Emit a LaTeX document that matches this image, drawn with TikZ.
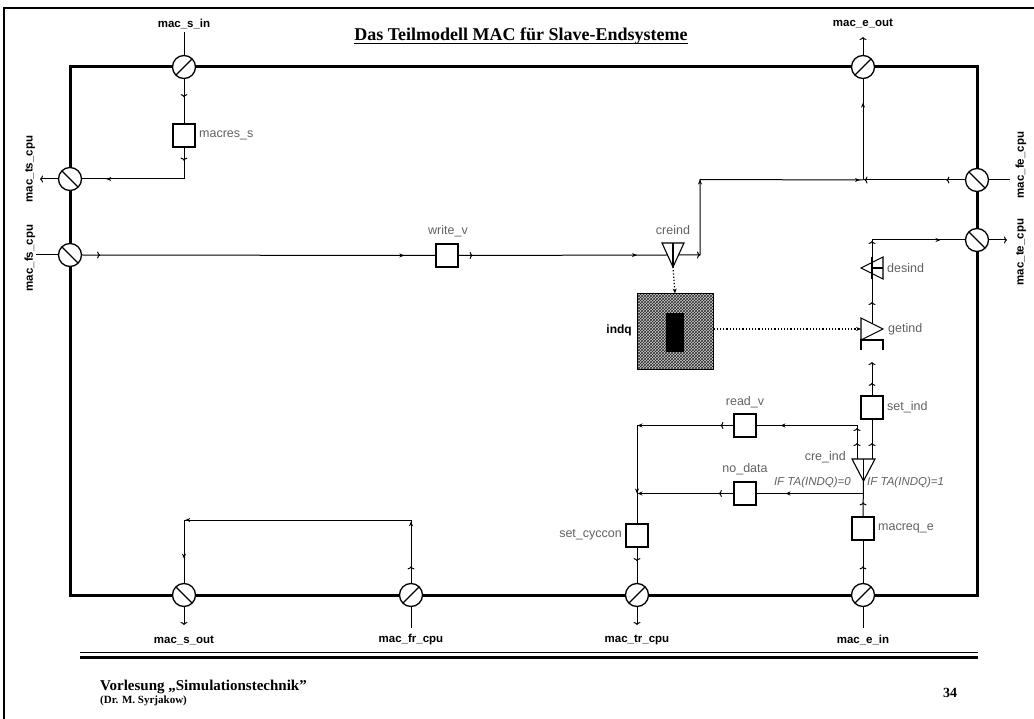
\documentclass[tikz,border=0pt]{standalone}
\usepackage{fontspec}
\setmainfont{Liberation Serif}
\newfontfamily\lsans{Liberation Sans}
\usetikzlibrary{arrows.meta,decorations.markings,patterns}
\begin{document}
\begin{tikzpicture}[x=1pt,y=-1pt,
  port/.style={circle,draw,fill=white,minimum size=23pt,inner sep=0pt,line width=1.3pt},
  pfwd/.style={port,path picture={\draw[line width=1.3pt] (path picture bounding box.south west)--(path picture bounding box.north east);}},
  pbwd/.style={port,path picture={\draw[line width=1.3pt] (path picture bounding box.north west)--(path picture bounding box.south east);}},
  box/.style={draw,fill=white,minimum width=22pt,minimum height=23pt,inner sep=0pt,line width=1.3pt},
  plab/.style={font=\lsans\bfseries\fontsize{11.5}{12}\selectfont,inner sep=0pt},
  glab/.style={font=\lsans\fontsize{12.5}{13}\selectfont,text=black!62,inner sep=0pt},
  ilab/.style={font=\lsans\itshape\fontsize{11.5}{12}\selectfont,text=black!62,inner sep=0pt},
  flow/.style={line width=1pt},
  sym/.style={line width=1.1pt,fill=white},
  oa/.style={postaction={decorate,decoration={markings,mark=at position #1 with {\arrow{To[length=3pt,width=7pt]}}}}},
  fa/.style={postaction={decorate,decoration={markings,mark=at position #1 with {\arrow{Stealth[length=5pt,width=4pt]}}}}},
  otip/.style={-{To[length=3pt,width=7pt]}},
  ftip/.style={-{Stealth[length=5pt,width=4pt]}},
  dot/.style={dotted,line width=1.2pt,-{Stealth[length=5pt,width=4pt]}}
]
\useasboundingbox (0,0) rectangle (1034,719);
% outer page frame
\draw[line width=1.5pt] (4,719) -- (4,8) -- (1034,8);
% title
\node[font=\bfseries\fontsize{18}{20}\selectfont,inner sep=0pt,anchor=base] (title) at (521,41) {Das Teilmodell MAC für Slave-Endsysteme};
\draw[line width=1.3pt] ([yshift=-2.5pt]title.base west) -- ([yshift=-2.5pt]title.base east);
% main rectangle
\draw[line width=3pt] (70,67) rectangle (977,595);

% ports
\node[pfwd] (sin) at (184,67) {};
\node[pfwd] (eout) at (863,67) {};
\node[pbwd] (ts) at (70,179) {};
\node[pbwd] (fs) at (70,255) {};
\node[pbwd] (fe) at (977,180) {};
\node[pbwd] (te) at (977,240) {};
\node[pbwd] (sout) at (184,595) {};
\node[pfwd] (fr) at (411,595) {};
\node[pfwd] (tr) at (637,595) {};
\node[pfwd] (ein) at (863,595) {};

% port labels
\node[plab] (lsin) at (184,24) {mac\_s\_in};
\node[plab] (leout) at (863,23) {mac\_e\_out};
\node[plab,rotate=90] (lts) at (30,169) {mac\_ts\_cpu};
\node[plab,rotate=90] (lfs) at (30,258) {mac\_fs\_cpu};
\node[plab,rotate=90] (lfe) at (1021,165) {mac\_fe\_cpu};
\node[plab,rotate=90] (lte) at (1021,252) {mac\_te\_cpu};
\node[plab] (lsout) at (184,640) {mac\_s\_out};
\node[plab] (lfr) at (411,640) {mac\_fr\_cpu};
\node[plab] (ltr) at (637,640) {mac\_tr\_cpu};
\node[plab] (lein) at (863,640) {mac\_e\_in};

% external connectors
\coordinate (tsout) at (40,179);
\coordinate (fsin) at (36,255);
\coordinate (fein) at (1010,180);
\coordinate (teout) at (1007,240);
\coordinate (soutend) at (184,625);
\coordinate (frin) at (411,628);
\coordinate (trend) at (637,625);
\coordinate (einin) at (863,628);
\coordinate (eoutend) at (863,37);
\draw[flow] ([yshift=-3pt]lsin.south) -- (sin.north);
\draw[flow,otip] (eout.north) -- (eoutend);
\draw[flow,otip] (ts.west) -- (tsout);
\draw[flow] (fsin) -- (fs.west);
\draw[flow] (fein) -- (fe.east);
\draw[flow,otip] (te.east) -- (teout);
\draw[flow,otip] (sout.south) -- (soutend);
\draw[flow] (frin) -- (fr.south);
\draw[flow,otip] (tr.south) -- (trend);
\draw[flow] (einin) -- (ein.south);

% transition boxes
\node[box] (macres) at (184,135.5) {};
\node[box] (writev) at (447,255.5) {};
\node[box] (readv) at (745,425.5) {};
\node[box] (nodata) at (745,493.5) {};
\node[box] (setcyc) at (637,535.5) {};
\node[box] (macreq) at (863,528.5) {};
\node[box] (setind) at (872,407.5) {};

\node[glab,anchor=west] at (199,135) {macres\_s};
\node[glab] at (448,231) {write\_v};
\node[glab] at (745,402) {read\_v};
\node[glab] at (745,469) {no\_data};
\node[glab,anchor=east] at (622,535) {set\_cyccon};
\node[glab,anchor=west] at (878,528) {macreq\_e};
\node[glab,anchor=west] at (887,407) {set\_ind};

% queue indq
\node[draw,line width=1pt,minimum width=76pt,minimum height=76pt,inner sep=0pt,
      preaction={fill=gray!35},pattern=crosshatch,pattern color=black!85] (indq) at (675,332) {};
\node[fill=black,minimum width=18pt,minimum height=39pt,inner sep=0pt] (indqin) at (675,332.5) {};
\node[font=\lsans\bfseries\fontsize{12}{13}\selectfont,anchor=east,inner sep=0pt] at (632,330) {indq};

% creind symbol
\coordinate (creind) at (673,255);
\draw[sym] ([shift={(-11,-12)}]creind) -- ([shift={(11,-12)}]creind) -- ([shift={(0,12)}]creind) -- cycle;
\draw[line width=1.1pt] ([shift={(0,-12)}]creind) -- ([shift={(0,12)}]creind);
\node[glab] at (673,230) {creind};
\coordinate (cj1) at (700,255);
\coordinate (cj2) at (700,179.5);
\coordinate (ej) at (863,180);

% desind symbol
\coordinate (desind) at (872,268);
\draw[sym] ([shift={(11,-11)}]desind) -- ([shift={(-11,0)}]desind) -- ([shift={(11,11)}]desind) -- cycle;
\draw[line width=1.1pt] ([shift={(0,-11)}]desind) -- ([shift={(0,11)}]desind);
\draw[line width=1.1pt] (desind) -- ([shift={(11,0)}]desind);
\node[glab,anchor=west] at (887,268) {desind};

% getind symbol
\coordinate (getind) at (872,329);
\draw[sym] ([shift={(-11,-11)}]getind) -- ([shift={(11,0)}]getind) -- ([shift={(-11,11)}]getind) -- cycle;
\draw[line width=1.1pt] ([shift={(-11,21)}]getind) -- ([shift={(-11,11)}]getind) -- ([shift={(11,11)}]getind) -- ([shift={(11,21)}]getind);
\node[glab,anchor=west] at (888,329) {getind};

% cre_ind symbol
\coordinate (creind2) at (863.5,470);
\draw[sym] ([shift={(-11.5,-11)}]creind2) -- ([shift={(11.5,-11)}]creind2) -- ([shift={(0,11)}]creind2) -- cycle;
\draw[line width=1.1pt] ([shift={(0,-11)}]creind2) -- ([shift={(0,11)}]creind2);
\node[glab,anchor=east] at (846,457) {cre\_ind};
\node[ilab,anchor=east] at (851,483) {IF TA(INDQ)=0};
\node[ilab,anchor=west] at (867,483) {IF TA(INDQ)=1};

\coordinate (creapex) at (863.5,481);
\coordinate (creL) at (857,459);
\coordinate (creR) at (872,459);
\coordinate (br) at (863.5,493.5);
\coordinate (lj1) at (637,425.5);
\coordinate (lj2) at (637,493.5);
\coordinate (gbot) at (872,362);
\coordinate (gtop) at (872,323);
\coordinate (dbot) at (872,279);
\coordinate (dtop) at (872,257);
\coordinate (tej) at (872,240);
\coordinate (frtop) at (411,520);
\coordinate (souttop) at (184,520);

% flows: left part
\draw[flow,oa=18pt] (sin.south) -- (macres.north);
\draw[flow,oa=13pt,fa=109pt] (macres.south) |- (ts.east);
\draw[flow,oa=18pt,fa=-31pt] (fs.east) -- (writev.west);
\draw[flow,oa=14pt,fa=-30pt] (writev.east) -- ([xshift=-6pt]creind);
\draw[flow,oa=21.5pt,fa=97pt,fa=257pt] ([xshift=5.5pt]creind) -- (cj1) -- (cj2) -- (ej);
\draw[flow,oa=18.5pt,oa=-1.5pt] (fe.west) -- (ej);
\draw[flow,fa=-23.5pt] (ej) -- (eout.south);
% dotted
\draw[dot] ([shift={(0,12)}]creind) -- (indq.north);
\draw[dot] (indq.east |- getind) -- ([xshift=-11pt]getind);

% right column
\draw[flow,oa=16.5pt] (ein.north) -- (macreq.south);
\draw[flow,oa=14pt] (macreq.north) -- (creapex);
\draw[flow,fa=78pt] (br) -- (nodata.east);
\draw[flow,oa=14.5pt,fa=-0.5pt] (nodata.west) -- (lj2);
\draw[flow,oa=16pt,oa=31pt,fa=110pt] (creL) |- (readv.east);
\draw[flow,oa=13pt,fa=-0.5pt] (readv.west) -- (lj1);
\draw[flow,oa=16pt] (creR) -- (setind.south);
\draw[flow,oa=12.5pt,otip] (setind.north) -- (gbot);
\draw[flow,oa=21pt] (gtop) -- (dbot);
\draw[flow,oa=16pt,fa=85.5pt] (dtop) -- (tej) -- (te.west);
\draw[flow,fa=68pt] (lj1) -- (setcyc.north);
\draw[flow,oa=13.5pt] (setcyc.south) -- (tr.north);
\draw[flow,oa=16.5pt,fa=61.5pt,fa=288.5pt,fa=328.5pt] (fr.north) -- (frtop) -- (souttop) -- (sout.north);

% footer
\draw[line width=0.8pt] (80,652.5) -- (978,652.5);
\draw[line width=3pt] (80,657.5) -- (978,657.5);
\node[anchor=base west,inner sep=0pt,font=\bfseries\fontsize{15}{16}\selectfont] (fvl) at (100,690) {Vorlesung „Simulationstechnik"};
\node[anchor=base west,inner sep=0pt,font=\bfseries\fontsize{11}{12}\selectfont] (fdr) at (100,703) {(Dr. M. Syrjakow)};
\node[anchor=base,inner sep=0pt,font=\bfseries\fontsize{14}{15}\selectfont] (fpg) at (950,697) {34};
\end{tikzpicture}
\end{document}
